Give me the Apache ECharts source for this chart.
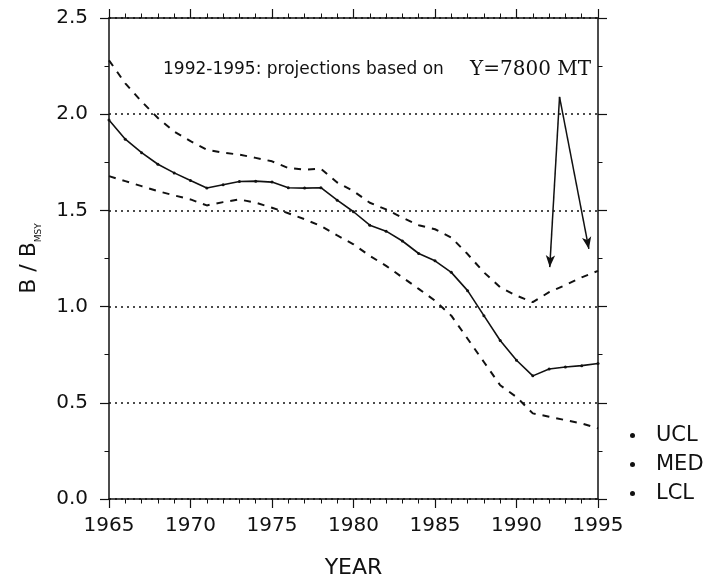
<!DOCTYPE html>
<html>
<head>
<meta charset="utf-8">
<script src="https://cdn.jsdelivr.net/npm/echarts@6/dist/echarts.min.js"></script>
<style>
html,body{margin:0;padding:0;background:#fff;}
#chart{width:713px;height:584px;}
</style>
</head>
<body>
<div id="chart"></div>
<script>
// ---- data ----
var years = [1965,1966,1967,1968,1969,1970,1971,1972,1973,1974,1975,1976,1977,1978,1979,1980,1981,1982,1983,1984,1985,1986,1987,1988,1989,1990,1991,1992,1993,1994,1995];
var ucl = [2.28,2.16,2.066,1.98,1.91,1.86,1.816,1.80,1.79,1.773,1.755,1.72,1.712,1.716,1.645,1.60,1.54,1.505,1.462,1.423,1.402,1.359,1.273,1.178,1.10,1.057,1.023,1.075,1.112,1.152,1.186];
var med = [1.97,1.87,1.80,1.74,1.695,1.655,1.616,1.633,1.65,1.652,1.647,1.618,1.616,1.618,1.553,1.493,1.423,1.392,1.341,1.276,1.238,1.178,1.083,0.953,0.824,0.721,0.64,0.676,0.686,0.693,0.704];
var lcl = [1.678,1.652,1.626,1.60,1.578,1.557,1.526,1.543,1.557,1.54,1.514,1.485,1.454,1.419,1.37,1.324,1.264,1.212,1.152,1.092,1.031,0.953,0.833,0.712,0.591,0.53,0.445,0.428,0.41,0.393,0.367];
var seriesNames = ['UCL','MED','LCL'];
// arrow: apex then two heads
var arrowApex = [1992.64, 2.09];
var arrowHeads = [[1992.04, 1.205], [1994.44, 1.30]];
var xTicks = [1965,1970,1975,1980,1985,1990,1995];
var yTicks = [0.0,0.5,1.0,1.5,2.0,2.5];
var noteText = '1992-1995: projections based on';
var noteText2 = 'Y=7800 MT';
var xName = 'YEAR';

function pairs(xs, ys){ return xs.map(function(x,i){ return [x, ys[i]]; }); }

var chart = echarts.init(document.getElementById('chart'), null, {renderer:'canvas'});
var black = '#111';
var sans = 'DejaVu Sans';

function xAxisCfg(pos, showLabel){
  return {
    type:'value', position:pos, min:1965, max:1995, interval:5,
    axisLine:{show:true, onZero:false, lineStyle:{color:black, width:1.5}},
    axisTick:{show:true, inside:false, length:9, lineStyle:{color:black, width:1.2}},
    minorTick:{show:true, splitNumber:5, length:4.5, lineStyle:{color:black, width:1}},
    axisLabel:{show:showLabel, color:black, fontFamily:sans, fontSize:20, margin:17,
      formatter:function(v){ return String(v); }},
    splitLine:{show:false}, minorSplitLine:{show:false}
  };
}
function yAxisCfg(pos, showLabel){
  return {
    type:'value', position:pos, min:0, max:2.5, interval:0.5,
    axisLine:{show:true, onZero:false, lineStyle:{color:black, width:1.5}},
    axisTick:{show:true, inside:false, length:9, lineStyle:{color:black, width:1.2}},
    minorTick:{show:true, splitNumber:2, length:4.5, lineStyle:{color:black, width:1}},
    axisLabel:{show:showLabel, color:black, fontFamily:sans, fontSize:20, margin:21,
      formatter:function(v){ return v.toFixed(1); }},
    splitLine:{show:showLabel, lineStyle:{color:black, type:[2,4], width:1.6}},
    minorSplitLine:{show:false}
  };
}

var xa = xAxisCfg('bottom', true);
xa.name = xName;
xa.nameLocation = 'middle';
xa.nameGap = 58;
xa.nameTextStyle = {color:black, fontFamily:sans, fontSize:22};
var ya = yAxisCfg('left', true);
ya.name = '{b|B / B}{s|MSY}';
ya.nameLocation = 'middle';
ya.nameGap = 69;
ya.nameRotate = 90;
ya.nameTextStyle = {color:black, rich:{
  b:{fontFamily:sans, fontSize:22, color:black},
  s:{fontFamily:sans, fontSize:9, color:black, verticalAlign:'bottom', padding:[0,0,-3,0]}
}};

var option = {
  animation:false,
  backgroundColor:'#fff',
  grid:{left:109, right:115, top:18, bottom:83, containLabel:false},
  xAxis:[xa, xAxisCfg('top', false)],
  yAxis:[ya, yAxisCfg('right', false)],
  legend:{
    data:seriesNames, orient:'vertical', left:625, top:420, itemGap:8,
    icon:'circle', itemWidth:5, itemHeight:5,
    textStyle:{color:black, fontFamily:sans, fontSize:21, padding:[0,0,0,16]},
    selectedMode:false
  },
  graphic:[
    {type:'text', left:163, top:61, silent:true,
      style:{text:noteText, fill:black, font:'17px "DejaVu Sans"'}},
    {type:'text', left:470, top:60, silent:true,
      style:{text:noteText2, fill:black, font:'20px "DejaVu Serif"'}}
  ],
  series:[
    {name:'UCL', type:'line', xAxisIndex:0, yAxisIndex:0, data:pairs(years, ucl),
      symbol:'none', itemStyle:{color:black},
      lineStyle:{color:black, width:2, type:[7,7]}},
    {name:'MED', type:'line', xAxisIndex:0, yAxisIndex:0, data:pairs(years, med),
      symbol:'circle', symbolSize:3, itemStyle:{color:black},
      lineStyle:{color:black, width:1.6}},
    {name:'LCL', type:'line', xAxisIndex:0, yAxisIndex:0, data:pairs(years, lcl),
      symbol:'none', itemStyle:{color:black},
      lineStyle:{color:black, width:2, type:[7,7]}},
    {name:'arrows', type:'line', xAxisIndex:0, yAxisIndex:0, data:[],
      markLine:{
        silent:true, animation:false,
        symbol:['none','arrow'], symbolSize:[7,12],
        label:{show:false},
        lineStyle:{color:black, width:1.5, type:'solid'},
        data: arrowHeads.map(function(h){ return [{coord:arrowApex}, {coord:h}]; })
      }}
  ]
};
chart.setOption(option);
</script>
</body>
</html>
